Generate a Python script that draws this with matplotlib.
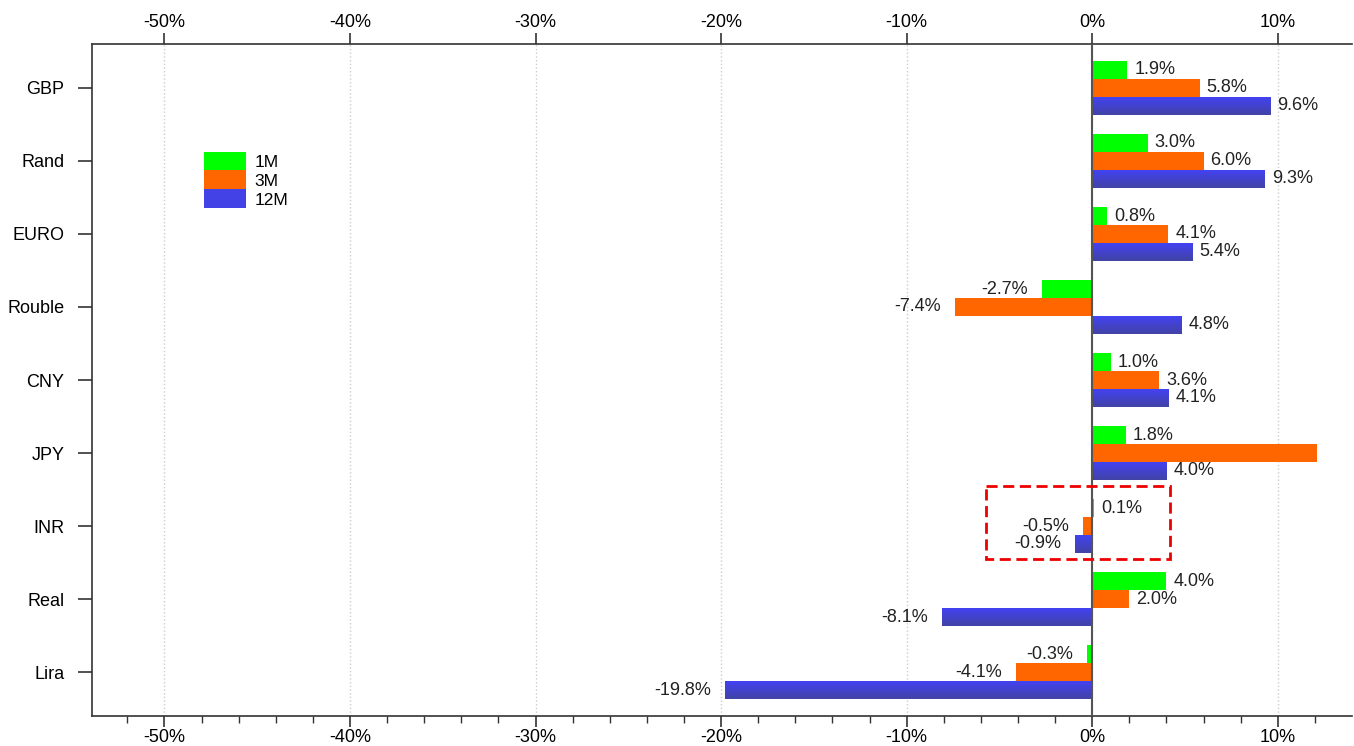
import matplotlib.pyplot as plt
from matplotlib.patches import Rectangle, Patch
from matplotlib.colors import LinearSegmentedColormap
import numpy as np

plt.rcParams['font.family'] = ['Liberation Sans', 'DejaVu Sans']

currencies = ['GBP', 'Rand', 'EURO', 'Rouble', 'CNY', 'JPY', 'INR', 'Real', 'Lira']
m1  = [1.9, 3.0, 0.8, -2.7, 1.0, 1.8, 0.1, 4.0, -0.3]
m3  = [5.8, 6.0, 4.1, -7.4, 3.6, 12.1, -0.5, 2.0, -4.1]
m12 = [9.6, 9.3, 5.4, 4.8, 4.1, 4.0, -0.9, -8.1, -19.8]
series = ['1M', '3M', '12M']
colors = ['#00FF00', '#FF6600', '#4242E6']
x_ticks = [-50, -40, -30, -20, -10, 0, 10]

XMIN, XMAX = -53.9, 14.0
YMIN, YMAX = 8.6, -0.6

fig = plt.figure(figsize=(13.54, 7.46), dpi=100)
ax = fig.add_axes([0.068, 0.0402, 0.9305, 0.9008])

blue_grad = LinearSegmentedColormap.from_list('bg', ['#4343F2', '#4242A6'])
grad = np.linspace(0, 1, 64).reshape(-1, 1)

y = np.arange(len(currencies))
h = 0.245
offsets = [-h, 0, h]
for vals, off, c, name in zip([m1, m3, m12], offsets, colors, series):
    bars = ax.barh(y + off, vals, height=h, color=c, label=name, zorder=3)
    for bar, v in zip(bars, vals):
        y0 = bar.get_y()
        yc = y0 + bar.get_height() / 2
        if name == '12M':
            # vertical shading on the 12M bars
            ax.imshow(grad, cmap=blue_grad, aspect='auto', zorder=3.5,
                      extent=[min(0, v), max(0, v), y0 + bar.get_height(), y0],
                      interpolation='bilinear')
        if name == '3M' and v > 12:
            continue  # label clipped in original
        if v >= 0:
            ax.annotate(f'{v:.1f}%', (v, yc), xytext=(5, 0), textcoords='offset points',
                        ha='left', va='center', fontsize=13, color='#222')
        else:
            ax.annotate(f'{v:.1f}%', (v, yc), xytext=(-10, 0), textcoords='offset points',
                        ha='right', va='center', fontsize=13, color='#222')

ax.axvline(0, color='#555', lw=1.5, zorder=4)

ax.set_xlim(XMIN, XMAX)
ax.set_ylim(YMIN, YMAX)
ax.set_yticks(y)
ax.set_yticklabels(currencies, fontsize=13)
ax.set_xticks(x_ticks)
ax.set_xticks(np.arange(-52, 14, 2), minor=True)
ax.xaxis.set_major_formatter(plt.FuncFormatter(lambda v, p: f'{v:.0f}%'))
ax.tick_params(axis='x', which='major', labelsize=13, length=8, width=1.2, pad=1.5,
               color='#333', top=True, labeltop=True, bottom=True, labelbottom=True)
ax.tick_params(axis='x', which='minor', length=5, width=1.0, color='#333',
               top=False, bottom=True)
ax.tick_params(axis='y', length=10, width=1.2, color='#333', pad=10)

ax.grid(axis='x', which='major', color='#cccccc', linestyle=':', lw=1.0, zorder=0)
ax.spines['right'].set_visible(False)
for s in ['left', 'top', 'bottom']:
    ax.spines[s].set_color('#333')
    ax.spines[s].set_linewidth(1.2)

# highlight box around INR
ax.add_patch(Rectangle((-5.7, 5.45), 9.9, 1.0, fill=False, edgecolor='#EE0000',
                       lw=2, linestyle=(0, (4, 2)), zorder=5))

handles = [Patch(facecolor=c, label=n) for c, n in zip(colors, series)]
ax.legend(handles=handles, loc='upper left', bbox_to_anchor=(0.089, 0.84),
          frameon=False, fontsize=12.5, handlelength=2.4, handleheight=1.3,
          labelspacing=0.0, handletextpad=0.5, borderpad=0, borderaxespad=0)

plt.savefig('out.png', dpi=100)
plt.close()
